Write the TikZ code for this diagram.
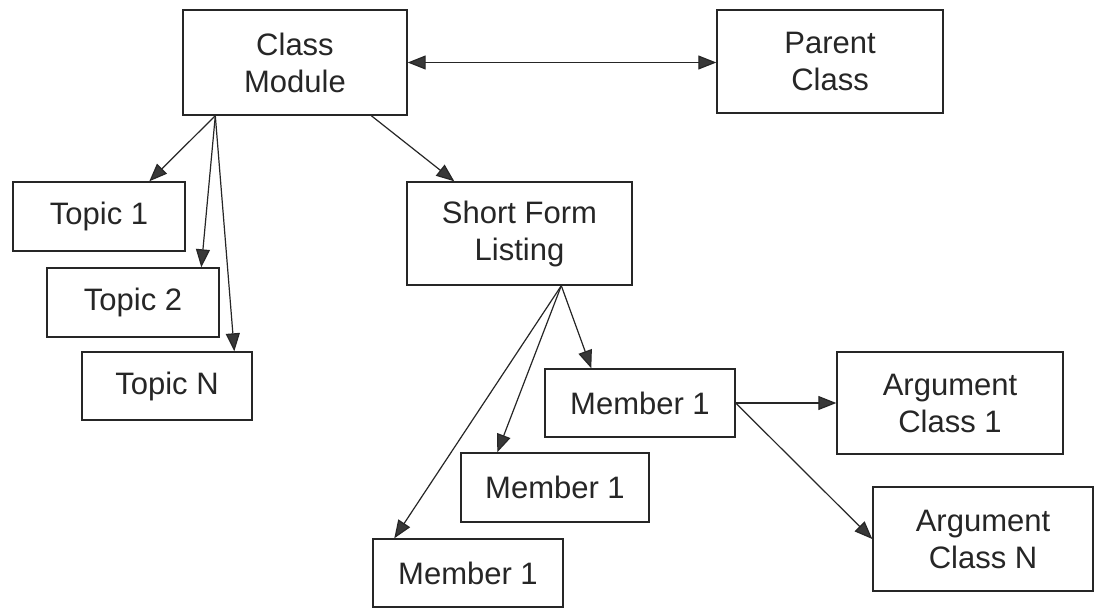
\documentclass[tikz,border=0pt]{standalone}
\usepackage{fontspec}
\setmainfont{Liberation Sans}
\usetikzlibrary{arrows.meta,calc}
\definecolor{ink}{HTML}{262626}
\definecolor{tipc}{HTML}{383838}
\tikzset{
  box/.style={draw=ink, line width=1.4pt, inner sep=0pt, align=center,
    text=ink, font=\fontsize{31}{37}\selectfont},
  arr/.style={draw=ink, line width=1.2pt, -{Triangle[length=18pt,width=14pt,fill=tipc]}},
  darr/.style={draw=ink, line width=1.2pt, {Triangle[length=18pt,width=14pt,fill=tipc]}-{Triangle[length=18pt,width=14pt,fill=tipc]}}
}
\begin{document}
\begin{tikzpicture}[x=1pt,y=-1pt]
\useasboundingbox (0,0) rectangle (1095,608);
\fill[white] (0,0) rectangle (1095,608);
% nodes
\node[box, minimum width=224pt, minimum height=105pt] (cm) at (295,62.5) {Class\\Module};
\node[box, minimum width=226pt, minimum height=103pt] (pc) at (830,61.5) {Parent\\Class};
\node[box, minimum width=172pt, minimum height=69pt] (t1) at (99,216.5) {Topic 1};
\node[box, minimum width=172pt, minimum height=69pt] (t2) at (133,302.5) {Topic 2};
\node[box, minimum width=170pt, minimum height=68pt] (tn) at (167,386) {Topic N};
\node[box, minimum width=225pt, minimum height=103pt] (sf) at (519.5,233.5) {Short Form\\Listing};
\node[box, minimum width=190pt, minimum height=68pt] (m1) at (640,403) {Member 1};
\node[box, minimum width=226pt, minimum height=102pt] (ac1) at (950,403) {Argument\\Class 1};
\node[box, minimum width=188pt, minimum height=69pt] (m2) at (555,487.5) {Member 1};
\node[box, minimum width=220pt, minimum height=104pt] (acn) at (983,539) {Argument\\Class N};
\node[box, minimum width=190pt, minimum height=68pt] (m3) at (468,573) {Member 1};
% connectors
\draw[darr] (cm.east) -- (cm.east -| pc.west);
\draw[arr] ($(cm.south west)+(33,0)$) -- ($(t1.north west)+(137,0)$);
\draw[arr] ($(cm.south west)+(33,0)$) -- ($(t2.north west)+(155,0)$);
\draw[arr] ($(cm.south west)+(33,0)$) -- ($(tn.north west)+(153,0)$);
\draw[arr] ($(cm.south west)+(189,0)$) -- ($(sf.north west)+(48,0)$);
\draw[arr] ($(sf.south west)+(155,0)$) -- ($(m1.north west)+(47,0)$);
\draw[arr] ($(sf.south west)+(155,0)$) -- ($(m2.north west)+(37,0)$);
\draw[arr] ($(sf.south west)+(155,0)$) -- ($(m3.north west)+(22,0)$);
\draw[arr] (m1.east) -- (m1.east -| ac1.west);
\draw[arr] (m1.east) -- (acn.west);
\end{tikzpicture}
\end{document}
